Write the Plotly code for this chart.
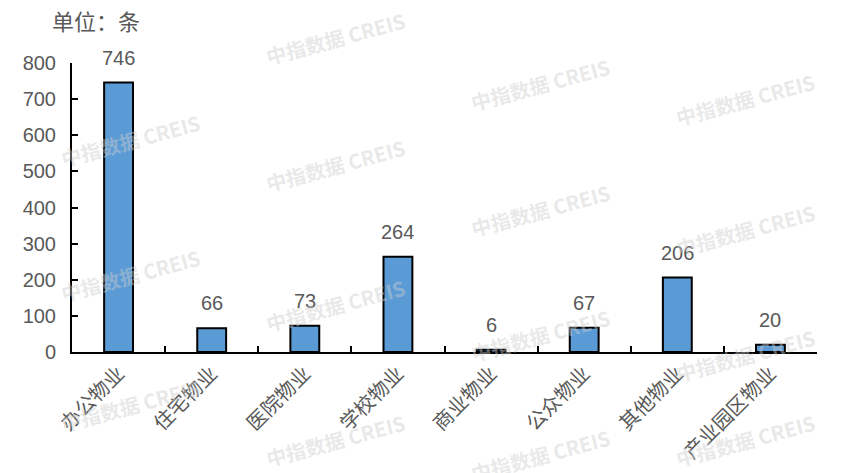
import plotly.graph_objects as go

categories = ["办公物业", "住宅物业", "医院物业", "学校物业", "商业物业", "公众物业", "其他物业", "产业园区物业"]
values = [746, 66, 73, 264, 6, 67, 206, 20]
y_ticks = [0, 100, 200, 300, 400, 500, 600, 700, 800]

font_family = "Noto Sans CJK SC, Liberation Sans, Arial, sans-serif"

W, H = 856, 473
OFF = 8  # browser body margin
# desired on-screen plot area: x 72..817, y 63..352
ML = 72 - OFF
MT = 63 - OFF
PW = 817 - 72
PH = 352 - 63
MR = W - ML - PW
MB = H - MT - PH


def px2paper(px, py):
    # px, py: on-screen pixel coordinates
    return (px - OFF - ML) / PW, (H - (py - OFF) - MB) / PH


fig = go.Figure()
fig.add_trace(go.Bar(
    x=categories, y=values, width=0.31,
    marker=dict(color="#5B9BD5", line=dict(color="#000000", width=2)),
    hoverinfo="x+y",
))

for c, v in zip(categories, values):
    fig.add_annotation(
        x=c, y=v, xref="x", yref="y", text=str(v), showarrow=False,
        yanchor="bottom", yshift=12,
        font=dict(size=20, color="#595959", family="Liberation Sans, Arial"),
    )

# watermarks
wm_pos = [(335, 38), (540, 85), (745, 100), (130, 140), (335, 165), (540, 210),
          (745, 230), (130, 275), (335, 305), (540, 335), (745, 355), (130, 405),
          (335, 440), (540, 455), (745, 440)]
for (px, py) in wm_pos:
    xp, yp = px2paper(px, py)
    fig.add_annotation(
        x=xp, y=yp, xref="paper", yref="paper",
        text="<b>中指数据 CREIS</b>", showarrow=False, textangle=-15,
        font=dict(size=20, color="rgba(205,205,205,0.45)", family=font_family),
        xanchor="center", yanchor="middle",
    )

xp, yp = px2paper(50, 20)
fig.add_annotation(
    x=xp, y=yp, xref="paper", yref="paper",
    text="单位：条", showarrow=False, xanchor="left", yanchor="middle",
    font=dict(size=22, color="#595959", family=font_family),
)

fig.update_layout(
    width=W, height=H,
    margin=dict(l=ML, r=MR, t=MT, b=MB, autoexpand=False),
    paper_bgcolor="white", plot_bgcolor="white",
    showlegend=False,
    font=dict(family=font_family),
)
fig.update_xaxes(
    showline=True, linecolor="#000000", linewidth=2,
    ticks="inside", ticklen=6, tickwidth=2, tickcolor="#000000",
    tickson="boundaries", tickangle=-45, automargin=False,
    tickfont=dict(size=20, color="#595959", family=font_family),
    showgrid=False,
)
fig.update_yaxes(
    range=[0, 800], tickvals=y_ticks, automargin=False,
    showline=True, linecolor="#000000", linewidth=2,
    ticks="inside", ticklen=6, tickwidth=2, tickcolor="#000000",
    ticklabelstandoff=10,
    tickfont=dict(size=20, color="#595959", family="Liberation Sans, Arial"),
    showgrid=False, zeroline=False,
)

fig.write_html("out.html")
